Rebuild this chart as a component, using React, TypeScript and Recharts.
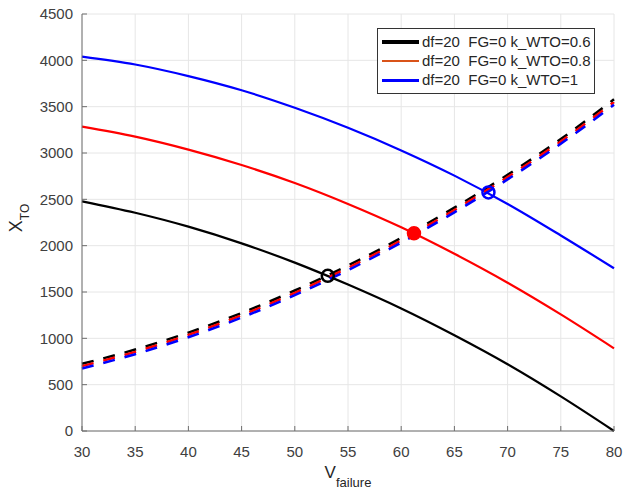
import {
  CartesianGrid,
  ComposedChart,
  Label,
  Legend,
  Line,
  XAxis,
  YAxis,
} from "recharts";

const FONT = "'Liberation Sans', Arial, Helvetica, sans-serif";

const vFailure = [30, 35, 40, 45, 50, 55, 60, 65, 70, 75, 80];

// solid curves, X_TO vs V_failure
const xtoK06 = [2479, 2355, 2205, 2025, 1817, 1580, 1322, 1033, 720, 373, 0];
const xtoK08 = [3284, 3176, 3036, 2870, 2676, 2450, 2198, 1912, 1600, 1258, 892];
const xtoK10 = [4040, 3955, 3830, 3677, 3488, 3272, 3028, 2756, 2450, 2110, 1756];

// dashed curves
const dashK06 = [725, 879, 1062, 1274, 1516, 1786, 2083, 2410, 2765, 3150, 3580];
const dashK08 = [700, 854, 1037, 1249, 1491, 1761, 2058, 2385, 2740, 3125, 3550];
const dashK10 = [675, 829, 1012, 1224, 1466, 1736, 2033, 2360, 2715, 3100, 3520];

// crossing points (black, red, blue)
const crossV = [53.1, 61.2, 68.2];
const crossXto = [1675, 2133, 2575];

const xTicks = [30, 35, 40, 45, 50, 55, 60, 65, 70, 75, 80];
const yTicks = [0, 500, 1000, 1500, 2000, 2500, 3000, 3500, 4000, 4500];

const legendLabels = [
  "df=20  FG=0 k_WTO=0.6",
  "df=20  FG=0 k_WTO=0.8",
  "df=20  FG=0 k_WTO=1",
];
const legendColors = ["#000000", "#d95319", "#0000ff"];
const legendWidths = [4, 2.5, 3];

const lineColors = ["#000000", "#ff0000", "#0000ff"];

const toRows = (ys: number[]) => vFailure.map((v, i) => ({ v, xto: ys[i] }));

const XLabel = (props: any) => {
  const vb = props.viewBox;
  const cx = vb.x + vb.width / 2;
  return (
    <text x={cx} y={vb.y + 47} textAnchor="middle" fill="#262626" fontFamily={FONT}>
      <tspan fontSize={17}>V</tspan>
      <tspan fontSize={13} dy={9}>failure</tspan>
    </text>
  );
};

const YLabel = () => {
  const cx = 22;
  const cy = 218;
  return (
    <text
      x={cx}
      y={cy}
      textAnchor="middle"
      fill="#262626"
      fontFamily={FONT}
      transform={`rotate(-90, ${cx}, ${cy})`}
    >
      <tspan fontSize={18}>X</tspan>
      <tspan fontSize={12} dy={7}>TO</tspan>
    </text>
  );
};

const LegendBox = () => (
  <div
    style={{
      width: 216,
      height: 61,
      border: "1px solid #333",
      background: "#fff",
      boxSizing: "content-box",
      fontFamily: FONT,
      fontSize: 15,
      color: "#262626",
      paddingTop: 3,
    }}
  >
    {legendLabels.map((label, i) => (
      <div
        key={label}
        style={{ display: "flex", alignItems: "center", height: 19.3 }}
      >
        <div
          style={{
            width: 37,
            height: legendWidths[i],
            background: legendColors[i],
            marginLeft: 4,
            marginRight: 3,
          }}
        />
        <span style={{ whiteSpace: "pre", lineHeight: "16px" }}>{label}</span>
      </div>
    ))}
  </div>
);

export default function App() {
  return (
    <div
      style={{
        position: "absolute",
        left: 0,
        top: 0,
        width: 623,
        height: 491,
        background: "#fff",
        overflow: "visible",
      }}
    >
      <ComposedChart
        width={623}
        height={491}
        margin={{ top: 14, right: 9, bottom: 20, left: 22 }}
        style={{ fontFamily: FONT, overflow: "visible" }}
      >
        <CartesianGrid stroke="#e6e6e6" />
        <XAxis
          dataKey="v"
          type="number"
          domain={[30, 80]}
          ticks={xTicks}
          interval={0}
          height={40}
          axisLine={{ stroke: "#6e6e6e" }}
          tickLine={{ stroke: "#6e6e6e" }}
          tickSize={-5}
          tickMargin={20}
          tick={{ fill: "#404040", fontSize: 15 }}
        >
          <Label content={XLabel} />
        </XAxis>
        <YAxis
          type="number"
          domain={[0, 4500]}
          ticks={yTicks}
          interval={0}
          width={60}
          axisLine={{ stroke: "#6e6e6e" }}
          tickLine={{ stroke: "#6e6e6e" }}
          tickSize={-5}
          tickMargin={14}
          tick={{ fill: "#404040", fontSize: 15 }}
        >
          <Label content={YLabel} />
        </YAxis>
        <Legend
          layout="vertical"
          align="center"
          verticalAlign="middle"
          wrapperStyle={{ left: 377, top: 28, width: 218, height: 66 }}
          content={LegendBox}
        />

        {[xtoK06, xtoK08, xtoK10].map((ys, i) => (
          <Line
            key={`solid-${i}`}
            data={toRows(ys)}
            dataKey="xto"
            type="monotone"
            stroke={lineColors[i]}
            strokeWidth={2.2}
            dot={false}
            activeDot={false}
            isAnimationActive={false}
          />
        ))}

        {crossV.map((v, i) => (
          <Line
            key={`cross-${i}`}
            data={[{ v, xto: crossXto[i] }]}
            dataKey="xto"
            stroke="none"
            dot={{
              r: 6,
              stroke: lineColors[i],
              strokeWidth: 2.5,
              fill: i === 1 ? lineColors[i] : "none",
            }}
            activeDot={false}
            isAnimationActive={false}
          />
        ))}

        {[dashK06, dashK08, dashK10].map((ys, i) => (
          <Line
            key={`dash-${i}`}
            data={toRows(ys)}
            dataKey="xto"
            type="monotone"
            stroke={lineColors[i]}
            strokeWidth={2.5}
            strokeDasharray="12 10"
            dot={false}
            activeDot={false}
            isAnimationActive={false}
          />
        ))}
      </ComposedChart>
    </div>
  );
}
